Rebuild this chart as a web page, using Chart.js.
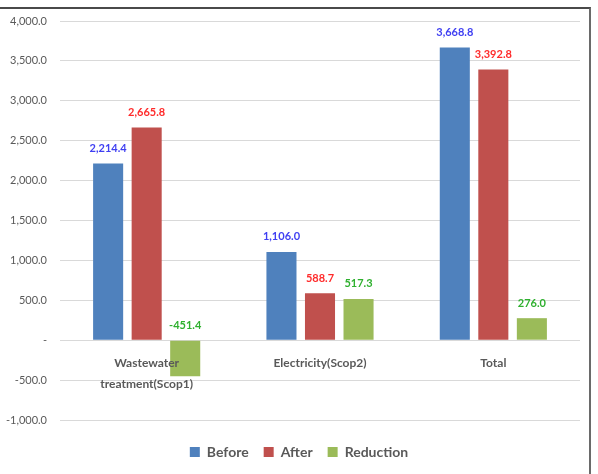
<!DOCTYPE html>
<html>
<head>
<meta charset="utf-8">
<title>Emissions before / after</title>
<script src="https://cdn.jsdelivr.net/npm/chart.js@4.4.1/dist/chart.umd.min.js"></script>
<style>
  html, body { margin: 0; padding: 0; background: #fff; }
  .wrap { position: relative; width: 598px; height: 474px; overflow: hidden; }
  /* cropped frame from the original screenshot: only top + right edges show */
  .frame {
    position: absolute; left: -10px; top: 7px; width: 601px; height: 600px;
    border-top: 2px solid #4a4a4a; border-right: 2px solid #6a6a6a;
    box-sizing: border-box; pointer-events: none;
  }
  canvas { position: absolute; left: 0; top: 0; }
</style>
</head>
<body>
<div class="wrap">
  <div class="frame"></div>
  <canvas id="emissionChart" width="598" height="474"></canvas>
</div>
<script>
  /* -------------------------------------------------------
   DATA
  ------------------------------------------------------- */
  const categories = [
    ["Wastewater", "treatment(Scop1)"],
    "Electricity(Scop2)",
    "Total",
  ];
  const before = [2214.4, 1106.0, 3668.8];
  const after = [2665.8, 588.7, 3392.8];
  const reduction = [-451.4, 517.3, 276.0];

  const yMin = -1000;
  const yMax = 4000;
  const yStep = 500;

  const LABEL_FONT = "Lato, 'Noto Sans', sans-serif";
  const GREY = "#595959";

  /* -------------------------------------------------------
   VALUE LABELS above each bar (coloured per series)
  ------------------------------------------------------- */
  const valueLabels = {
    id: "valueLabels",
    afterDatasetsDraw(chart) {
      const { ctx } = chart;
      ctx.save();
      ctx.font = "bold 11px " + LABEL_FONT;
      ctx.textAlign = "center";
      ctx.textBaseline = "middle";
      chart.data.datasets.forEach((ds, i) => {
        const meta = chart.getDatasetMeta(i);
        ctx.fillStyle = ds.labelColor;
        meta.data.forEach((bar, j) => {
          const top = Math.min(bar.y, bar.base);
          const txt = ds.data[j].toLocaleString("en-US", {
            minimumFractionDigits: 1,
            maximumFractionDigits: 1,
          });
          ctx.fillText(txt, bar.x, top - 15);
        });
      });
      ctx.restore();
    },
  };

  /* -------------------------------------------------------
   BAR CHART
  ------------------------------------------------------- */
  (function buildChart() {
    const ctx = document.getElementById("emissionChart").getContext("2d");

    new Chart(ctx, {
      type: "bar",
      data: {
        labels: categories,
        datasets: [
          { label: "Before", data: before, backgroundColor: "#4f81bd", labelColor: "#3f3ff2" },
          { label: "After", data: after, backgroundColor: "#c0504d", labelColor: "#ff2b2b" },
          { label: "Reduction", data: reduction, backgroundColor: "#9bbb59", labelColor: "#2fb02f" },
        ],
      },
      options: {
        responsive: false,
        animation: false,
        categoryPercentage: 0.667,
        barPercentage: 0.78,
        layout: { padding: { left: 0, right: 0, top: 21, bottom: 5 } },
        plugins: {
          tooltip: { enabled: false },
          legend: {
            position: "bottom",
            labels: {
              boxWidth: 10,
              boxHeight: 10,
              padding: 15,
              color: GREY,
              font: { family: LABEL_FONT, size: 14, weight: "bold" },
            },
          },
        },
        scales: {
          x: {
            position: { y: 0 } /* category labels sit under the zero line */,
            grid: { display: false },
            border: { display: false },
            ticks: {
              z: 1 /* labels drawn over the negative bar, like the original */,
              color: GREY,
              padding: 4,
              font: { family: LABEL_FONT, size: 12, weight: "bold", lineHeight: 1.8 },
              maxRotation: 0,
              autoSkip: false,
            },
          },
          /* empty spacer between plot and legend */
          xSpacer: {
            type: "category",
            labels: categories,
            position: "bottom",
            grid: { display: false },
            border: { display: false },
            ticks: { display: false },
            afterFit: (s) => { s.height = 10; },
          },
          y: {
            min: yMin,
            max: yMax,
            border: { display: false },
            grid: { color: "#d9d9d9", drawTicks: false },
            ticks: {
              stepSize: yStep,
              padding: 13,
              color: GREY,
              font: { family: LABEL_FONT, size: 11 },
              callback: (v) =>
                v === 0
                  ? "-"
                  : v.toLocaleString("en-US", { minimumFractionDigits: 1, maximumFractionDigits: 1 }),
            },
            afterFit: (s) => { s.width = 60; },
          },
          /* empty spacer on the right so the legend stays centred on the page */
          ySpacer: {
            type: "linear",
            position: "right",
            grid: { display: false },
            border: { display: false },
            ticks: { display: false },
            afterFit: (s) => { s.width = 18; },
          },
        },
      },
      plugins: [valueLabels],
    });
  })();
</script>
</body>
</html>
